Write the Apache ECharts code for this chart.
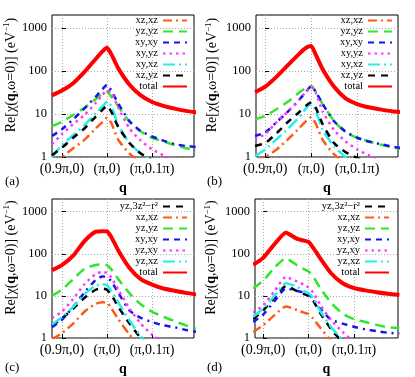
<!DOCTYPE html>
<html>
<head>
<meta charset="utf-8">
<script src="https://cdn.jsdelivr.net/npm/echarts@6/dist/echarts.min.js"></script>
<style>
  html, body { margin: 0; padding: 0; background: #fff; }
  #chart { width: 415px; height: 377px; }
</style>
</head>
<body>
<div id="chart"></div>
<script>
// sample positions along the q path: 0 = (0.9π,0), 1 = (π,0), 2 = (π,0.1π)
const xs = [-0.22, 0, 0.25, 0.5, 0.75, 0.9, 1.0, 1.1, 1.25, 1.5, 1.75, 2.0, 2.25, 2.5, 2.75, 3.0]
const xTickValues = [0, 1, 2]
const xTickLabels = ['(0.9π,0)', '(π,0)', '(π,0.1π)']
const yTickValues = [1, 10, 100, 1000]
const panelLabels = ['(a)', '(b)', '(c)', '(d)']

const legendAB = ['xz,xz', 'yz,yz', 'xy,xy', 'xy,yz', 'xy,xz', 'xz,yz', 'total']
const legendCD = ['yz,3z²−r²', 'xz,xz', 'yz,yz', 'xy,xy', 'yz,xy', 'yz,xz', 'total']

// panel (a)
const aXzXz = [0.7, 1.0, 1.6, 2.5, 4.6, 6.5, 8.2, 6, 2.5, 1.2, 0.75, 0.5, 0.4, 0.3, 0.3, 0.3]
const aYzYz = [5.2, 6.6, 9.5, 14, 22, 29, 33, 25, 15, 6.6, 3.9, 2.8, 2.3, 1.9, 1.6, 1.45]
const aXyXy = [3.1, 4.4, 7.5, 13.5, 25, 38, 48, 34, 17.5, 6.8, 4.0, 3.0, 2.4, 2.0, 1.8, 1.7]
const aXyYz = [2.0, 3.4, 5.8, 9.5, 18, 28, 35, 31, 14, 4.6, 2.4, 1.5, 1.1, 0.8, 0.6, 0.5]
const aXyXz = [1.0, 1.9, 3.2, 5.5, 10.4, 15, 19.5, 15, 5.5, 2.1, 1.2, 0.8, 0.6, 0.5, 0.4, 0.35]
const aXzYz = [1.1, 1.65, 2.8, 4.6, 8.7, 12.5, 15.5, 11, 5, 2.1, 1.2, 0.85, 0.6, 0.5, 0.4, 0.35]
const aTotal = [27, 35, 52, 95, 190, 285, 345, 240, 115, 48, 27, 19, 15.5, 13.3, 11.8, 10.8]

// panel (b)
const bXzXz = [0.8, 1.0, 1.5, 2.6, 4.8, 7, 8.4, 6, 2.5, 1.15, 0.7, 0.5, 0.4, 0.3, 0.3, 0.3]
const bYzYz = [7.5, 9, 13, 19.5, 32, 41, 45, 33, 17, 6.8, 3.8, 2.8, 2.3, 1.95, 1.7, 1.5]
const bXyXy = [3.1, 3.7, 6.5, 11.5, 22, 34, 44, 33, 17, 6.8, 3.9, 2.8, 2.3, 2.0, 1.75, 1.6]
const bXyYz = [2.6, 3.4, 6.5, 11.5, 22, 34, 43, 31, 11.5, 4.2, 2.3, 1.5, 1.1, 0.8, 0.6, 0.5]
const bXyXz = [1.05, 1.5, 2.6, 4.6, 8.7, 14, 17.5, 12, 4.3, 1.75, 1.0, 0.7, 0.5, 0.4, 0.3, 0.3]
const bXzYz = [1.8, 2.1, 3.6, 6.6, 11.3, 16, 18.5, 14, 5.8, 2.1, 1.3, 0.95, 0.7, 0.5, 0.4, 0.3]
const bTotal = [32, 43, 74, 138, 257, 350, 378, 240, 110, 43, 23, 17, 14.3, 12.8, 11.6, 10.9]

// panel (c)
const cYz3z2 = [2.0, 2.9, 5, 9, 14, 15, 14, 10.5, 5.5, 2.2, 1.0, 0.6, 0.4, 0.3, 0.3, 0.3]
const cXzXz = [0.95, 1.3, 2.2, 4.2, 6.5, 7.1, 6.8, 5, 2.8, 1.2, 0.6, 0.4, 0.3, 0.3, 0.3, 0.3]
const cYzYz = [10, 14, 25, 44, 54, 56, 54, 42, 25, 11.5, 6.3, 4.2, 3.2, 2.5, 2.0, 1.65]
const cXyXy = [1.8, 2.7, 5.5, 12, 24, 29, 28, 22, 12, 4.5, 3.0, 2.4, 2.0, 1.8, 1.55, 1.4]
const cYzXy = [3.0, 4.2, 8.5, 19, 33, 37, 35, 27, 14, 5, 2.2, 1.2, 0.8, 0.5, 0.4, 0.3]
const cYzXz = [2.1, 3.1, 5.5, 11, 17.5, 19, 18, 13, 7, 2.6, 1.1, 0.6, 0.4, 0.3, 0.3, 0.3]
const cTotal = [41, 54, 90, 200, 335, 345, 340, 245, 120, 46, 25, 18.5, 15, 13.3, 11.8, 10.7]

// panel (d)
const dYz3z2 = [2.8, 4.5, 9, 17, 13, 11, 10, 7.8, 4, 1.6, 0.8, 0.5, 0.4, 0.3, 0.3, 0.3]
const dXzXz = [1.4, 2.0, 3.5, 5.6, 4.6, 4.0, 3.7, 2.9, 1.8, 0.85, 0.5, 0.3, 0.3, 0.3, 0.3, 0.3]
const dYzYz = [15, 23, 47, 78, 53, 43, 38, 29, 15.5, 6.8, 3.8, 2.8, 2.4, 2.05, 1.8, 1.7]
const dXyXy = [2.4, 3.6, 7.5, 15, 13, 12, 11, 8.5, 5, 2.7, 2.2, 1.85, 1.6, 1.45, 1.33, 1.27]
const dYzXy = [4, 6, 13, 28, 22, 18.5, 16, 12, 6.3, 2.6, 1.4, 0.8, 0.5, 0.4, 0.3, 0.3]
const dYzXz = [3.2, 5, 10, 20, 16.5, 13, 11.5, 9, 4.5, 1.8, 0.9, 0.5, 0.3, 0.3, 0.3, 0.3]
const dTotal = [55, 80, 170, 318, 225, 205, 192, 140, 80, 34, 20, 15.4, 13.5, 12.2, 11.2, 10.5]

const serif = 'Liberation Serif'

const styles = {
  orange: { color: '#ff5a1a', width: 2.5, type: [9, 4, 2, 4] },
  green: { color: '#2ee62e', width: 2.5, type: [10, 6] },
  blue: { color: '#1515ee', width: 2.5, type: [6, 5, 6, 5, 2, 5] },
  magenta: { color: '#ff33ff', width: 2.5, type: [2.5, 4] },
  cyan: { color: '#22eeee', width: 2.5, type: [12, 4, 2, 4] },
  black: { color: '#000000', width: 2.5, type: [7, 6] },
  red: { color: '#ff0000', width: 4, type: 'solid' }
}

function line(name, values, style, gi) {
  return {
    name: name,
    type: 'line',
    xAxisIndex: gi,
    yAxisIndex: gi,
    data: xs.map((x, i) => [x, values[i]]),
    symbol: 'none',
    showSymbol: false,
    smooth: 0.2,
    clip: true,
    silent: true,
    lineStyle: { color: style.color, width: style.width, type: style.type },
    itemStyle: { color: style.color }
  }
}

const grids = [
  { left: 52, top: 15, width: 142, height: 142 },
  { left: 256, top: 15, width: 142, height: 142 },
  { left: 52, top: 199, width: 142, height: 143 },
  { left: 255, top: 199, width: 143, height: 143 }
]
const xRanges = [[-0.22, 2.93], [-0.2, 2.89], [-0.22, 2.93], [-0.18, 2.97]]

const chart = echarts.init(document.getElementById('chart'), null, { renderer: 'canvas' })

const option = {
  animation: false,
  backgroundColor: '#fff',
  title: panelLabels.map((t, i) => ({
    text: t,
    left: i % 2 === 0 ? 5 : 207,
    top: i < 2 ? 175 : 361,
    padding: 0,
    textStyle: { fontFamily: serif, fontSize: 13, fontWeight: 'normal', color: '#000' }
  })),
  grid: grids.map(g => Object.assign({ show: true, borderColor: '#000', borderWidth: 1, backgroundColor: 'transparent' }, g)),
  legend: [0, 1, 2, 3].map(i => ({
    data: i < 2 ? legendAB : legendCD,
    orient: 'vertical',
    align: 'right',
    right: i % 2 === 0 ? 227 : (i === 1 ? 22 : 25),
    top: i < 2 ? 15 : 201,
    padding: 0,
    itemWidth: 24,
    itemHeight: 8,
    itemGap: 0,
    selectedMode: false,
    // hide the marker dot, keep only the line sample
    itemStyle: { opacity: 0 },
    textStyle: { fontFamily: serif, fontSize: 10.5, lineHeight: 9.8, color: '#000' }
  })),
  xAxis: [0, 1, 2, 3].map(i => ({
    type: 'value',
    gridIndex: i,
    min: xRanges[i][0],
    max: xRanges[i][1],
    name: 'q',
    nameLocation: 'middle',
    nameGap: 24,
    nameTextStyle: { fontFamily: serif, fontSize: 14, fontWeight: 'bold', color: '#000' },
    axisLine: { show: false },
    axisTick: { show: true, inside: true, length: 4, customValues: xTickValues, lineStyle: { color: '#000' } },
    axisLabel: {
      customValues: xTickValues,
      margin: 5,
      fontFamily: serif,
      fontSize: 14,
      color: '#000',
      formatter: v => xTickLabels[xTickValues.indexOf(v)] || ''
    },
    splitLine: { show: true, lineStyle: { color: '#aaaaaa', type: [1, 2], width: 1 } }
  })),
  yAxis: [0, 1, 2, 3].map(i => ({
    type: 'log',
    logBase: 10,
    gridIndex: i,
    min: 1,
    max: 2000,
    name: '{a|Re[χ(}{b|q}{a|,ω=0)] (eV}{s|−1}{a|)}',
    nameLocation: 'middle',
    nameRotate: 90,
    nameGap: i % 2 === 0 ? 32 : 35,
    nameTextStyle: {
      padding: [0, 0, 0, 22],
      rich: {
        a: { fontFamily: serif, fontSize: 14, color: '#000' },
        b: { fontFamily: serif, fontSize: 14, fontWeight: 'bold', color: '#000' },
        s: { fontFamily: serif, fontSize: 9, color: '#000', padding: [0, 0, 8, 0] }
      }
    },
    axisLine: { show: false },
    axisTick: { show: true, inside: true, length: 4, customValues: yTickValues, lineStyle: { color: '#000' } },
    axisLabel: {
      customValues: yTickValues,
      margin: 5,
      fontFamily: serif,
      fontSize: 12.5,
      color: '#000',
      formatter: v => String(Math.round(v))
    },
    splitLine: { show: true, lineStyle: { color: '#aaaaaa', type: [1, 2], width: 1 } }
  })),
  series: [
    line('xz,xz', aXzXz, styles.orange, 0),
    line('yz,yz', aYzYz, styles.green, 0),
    line('xy,xy', aXyXy, styles.blue, 0),
    line('xy,yz', aXyYz, styles.magenta, 0),
    line('xy,xz', aXyXz, styles.cyan, 0),
    line('xz,yz', aXzYz, styles.black, 0),
    line('total', aTotal, styles.red, 0),

    line('xz,xz', bXzXz, styles.orange, 1),
    line('yz,yz', bYzYz, styles.green, 1),
    line('xy,xy', bXyXy, styles.blue, 1),
    line('xy,yz', bXyYz, styles.magenta, 1),
    line('xy,xz', bXyXz, styles.cyan, 1),
    line('xz,yz', bXzYz, styles.black, 1),
    line('total', bTotal, styles.red, 1),

    line('yz,3z²−r²', cYz3z2, styles.black, 2),
    line('xz,xz', cXzXz, styles.orange, 2),
    line('yz,yz', cYzYz, styles.green, 2),
    line('xy,xy', cXyXy, styles.blue, 2),
    line('yz,xy', cYzXy, styles.magenta, 2),
    line('yz,xz', cYzXz, styles.cyan, 2),
    line('total', cTotal, styles.red, 2),

    line('yz,3z²−r²', dYz3z2, styles.black, 3),
    line('xz,xz', dXzXz, styles.orange, 3),
    line('yz,yz', dYzYz, styles.green, 3),
    line('xy,xy', dXyXy, styles.blue, 3),
    line('yz,xy', dYzXy, styles.magenta, 3),
    line('yz,xz', dYzXz, styles.cyan, 3),
    line('total', dTotal, styles.red, 3)
  ]
}

chart.setOption(option)
</script>
</body>
</html>
